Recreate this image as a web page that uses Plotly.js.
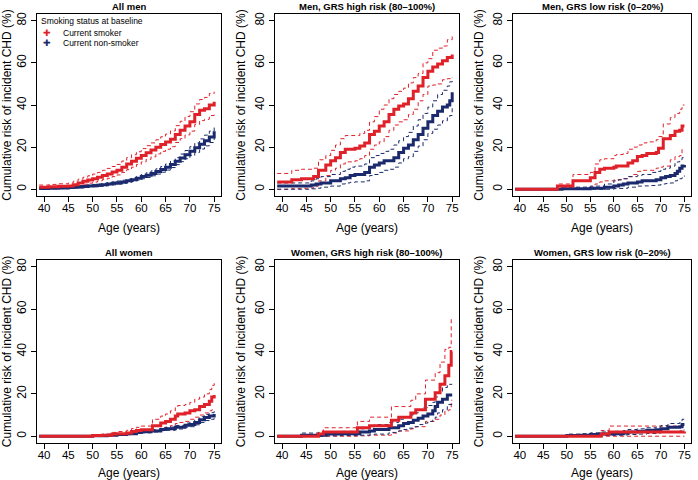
<!DOCTYPE html>
<html>
<head>
<meta charset="utf-8">
<script src="https://cdn.plot.ly/plotly-3.0.1.min.js"></script>
<style>html,body{margin:0;padding:0;background:#fff;}#chart{width:698px;height:480px;}</style>
</head>
<body>
<div id="chart"></div>
<script>
// ---------- DATA (Kaplan-Meier style cumulative risk, %) ----------
var panelTitles = ["All men", "Men, GRS high risk (80\u2013100%)", "Men, GRS low risk (0\u201320%)",
                   "All women", "Women, GRS high risk (80\u2013100%)", "Women, GRS low risk (0\u201320%)"];
var groupNames = ["Current smoker", "Current non-smoker"];
var legendTitle = "Smoking status at baseline";
var xTicks = [40, 45, 50, 55, 60, 65, 70, 75];
var yTicks = [0, 20, 40, 60, 80];

// Panel 1: All men
var p1SmkAge = [39,41,43,45,46,47,48,49,50,51,52,53,54,55,56,57,58,59,60,61,62,63,64,65,66,67,68,69,70,71,72,73,74,75];
var p1SmkEst = [1,1.2,1.4,1.6,2.2,3,3.8,4.4,5,5.7,6.5,7.3,8.2,9,10.5,12,13.3,14.7,16,17.3,18.6,20,21.3,22.4,23.8,26,28,30,32,35.5,37.5,38.2,40,41.5];
var p1SmkHi  = [2,2.3,2.6,3,3.8,4.8,5.7,6.4,7.2,8,9,9.9,10.8,11.8,13.4,15,16.4,17.8,19.3,20.7,22,23.5,24.9,26.2,27.7,30.2,32.3,34.5,36.8,40.5,42.6,43.6,45.5,46.3];
var p1SmkLo  = [0.3,0.5,0.6,0.8,1.2,1.8,2.4,2.9,3.4,4,4.6,5.2,6,6.8,8,9.3,10.5,11.8,13,14.2,15.4,16.8,18,19,20.2,22.2,24,25.8,27.6,30.8,32.6,33.2,35,36.5];
var p1NonAge = [39,41,43,45,46,47,48,49,50,51,52,53,54,55,56,57,58,59,60,61,62,63,64,65,66,67,68,69,70,71,72,73,74,75];
var p1NonEst = [0.4,0.5,0.6,0.8,0.9,1.1,1.3,1.5,1.7,1.9,2.2,2.5,2.8,3.1,3.5,4,4.5,5.2,6,6.7,7.5,8.4,9.4,10.5,11.8,13.3,14.8,16.4,18,19.7,21.4,23,24.8,27.5];
var p1NonHi  = [0.8,0.9,1,1.2,1.4,1.6,1.8,2,2.3,2.5,2.8,3.2,3.5,3.9,4.3,4.8,5.4,6.1,7,7.8,8.7,9.7,10.8,12,13.4,15,16.7,18.4,20.2,22,23.9,25.7,27.6,30.5];
var p1NonLo  = [0.1,0.2,0.3,0.5,0.6,0.7,0.9,1.1,1.2,1.4,1.6,1.9,2.1,2.4,2.8,3.2,3.7,4.3,5,5.6,6.4,7.2,8.1,9.1,10.3,11.7,13.1,14.5,16,17.5,19.1,20.6,22.2,24.7];

// Panel 2: Men, GRS high risk
var p2SmkAge = [39,42,44,46.5,47.5,49,50,51,52,53,55,56,57,58,59,60,61,62,63,64,65,66,67,68,69,70,71,72,73,74,75];
var p2SmkEst = [3.5,4.5,5,6,9,11.5,13.5,15,17.5,19,19.5,20.5,22,26,27.5,30,32,35.5,38,39.5,40.5,43,46.5,49,53,56,58,59.5,61,62.5,64];
var p2SmkHi  = [7.5,9,9.5,10,14,16,18.5,21,24,25.5,25.5,26.5,28,32,34.5,38,40,43,45,46.5,48,50.5,53,55,60,62,66,67,68,71,73];
var p2SmkLo  = [0,0.3,0.5,1.5,4,6.5,9,10,12,13,13.5,14.5,16,19,21,22.5,25,28,30.5,32,33,35.5,38,42,45,49,49.5,50,52,52.5,53];
var p2NonAge = [39,44,46,47,48,50,52,53,54,55,57,58,59,60,61,62,63,64,65,66,67,68,69,70,71,72,73,74,74.5,75];
var p2NonEst = [1.5,1.5,2,2.5,3,4,5,5.5,6.5,7,8,10.5,11.5,12.5,13.5,13.5,15,17.5,19.5,21,23.5,26,29,32,35,37,39,40,42,46];
var p2NonHi  = [3,3,4,5,6,7,8.5,9.5,10.5,11,12,15,16,17,18,19,21,23,25,27,30,33,36,39,42,45,47,49,51,53];
var p2NonLo  = [0,0,0.2,0.5,1,1.5,2.5,3,3.3,3.5,4,6.5,7,8,9,9.5,10.5,12.5,14.5,15.5,18,20.5,23.5,26.5,28.5,30.5,32.5,34,35,39];

// Panel 3: Men, GRS low risk
var p3SmkAge = [39,48,51.3,55,56,57,58,60,60.5,62,63,64,65,66,67,69,69.5,70.5,72,73,74,74.5,75];
var p3SmkEst = [0,1.5,4,5.5,8,9.5,10,10.5,11,11,12.5,13.5,15.5,16,17,17.5,19.5,24,25.5,27.5,28,30,30];
var p3SmkHi  = [0,2.5,7,8,12,14,14.5,16,16.5,17,19,20,21,22,22.5,23.5,25,31,34,36,38,40,40];
var p3SmkLo  = [0,0,0,1,2.5,3.5,4,4.5,4.5,5,6,7,8.5,9,9,10,10.5,11,14,15.5,16,19,19];
var p3NonAge = [39,49,55,58,60,61,62,63,65,66,68,69,70,71,72,73,73.5,74,74.5,75];
var p3NonEst = [0,0.3,0.5,1,1.5,2,2.5,3,3.5,4,4,4.5,5.5,6,6.5,7.5,8.5,10,11,11.5];
var p3NonHi  = [0,1,1.5,2.5,4,4.5,5,6,6.5,7,8,8.5,9.5,10,11,12.5,13,14,15,16];
var p3NonLo  = [0,0,0,0,0.3,0.4,0.5,1,1.5,1.6,1.8,2,2.5,2.7,3,4,4.3,5,5.5,6.5];

// Panel 4: All women
var p4SmkAge = [39,50,52,54,55,57,58,59,60,62.3,64,65,66,67,67.5,69,70,71,72,73,74,74.5,75];
var p4SmkEst = [0,0.3,0.5,1,1.2,1.5,2.2,2.7,3.1,5,6.2,7,8,9.5,10.5,11,12,12.5,14,15,16.5,18.5,19.5];
var p4SmkHi  = [0,0.6,1,1.8,2.2,2.8,3.6,4.2,4.8,8,9.5,10.5,12,13.5,14.5,15,16,17.5,18.5,20,22,24,25.5];
var p4SmkLo  = [0,0,0.1,0.3,0.5,0.7,1,1.4,1.8,2.8,3.5,4,5,6,6.5,7,8,9,10,11,12,12.5,13];
var p4NonAge = [39,50,53,55,57,59,60,62,64,65,67,69,70,71,72,73,74,75];
var p4NonEst = [0,0.2,0.5,0.8,1.2,1.8,2.1,2.5,3.2,3.5,4.2,5.2,5.5,6.5,7.8,8.8,9.5,10.5];
var p4NonHi  = [0,0.4,0.8,1.1,1.6,2.3,2.6,3.1,3.9,4.3,5.1,6.2,6.6,7.7,9.2,10.3,11.1,12.5];
var p4NonLo  = [0,0.1,0.3,0.5,0.9,1.4,1.6,2,2.6,2.8,3.4,4.3,4.5,5.4,6.5,7.4,8,9];

// Panel 5: Women, GRS high risk
var p5SmkAge = [39,47.5,48.5,55.5,58,62.5,64,66.5,67.5,69.5,71.5,72.5,73.5,74.3,74.8,75];
var p5SmkEst = [0,1,2,4,5,7.5,9,11,12.5,17.5,20.5,24.5,28.5,33.5,40,40];
var p5SmkHi  = [0,2,4,7,9,14,14,17,20,26.5,30,35,41,42,56,56];
var p5SmkLo  = [0,0,0,0.2,0.5,1.5,2.5,3.5,4.5,7,8,10,12,12.5,17,17];
var p5NonAge = [39,44,49,52,56,58,59,62,64,65,66,67,68,69,70,71,71.5,72,73,74,75];
var p5NonEst = [0,0.5,1,1.2,2,2.5,3.2,4,5,6,6.5,7.5,8.5,9.5,10.5,12,14,16,17.5,19.5,19.5];
var p5NonHi  = [0,1.5,2,2.3,3.5,4.5,5.5,6.5,8,9,10,11,12.5,13.5,14.5,16,18.5,20.5,23,24.5,24.5];
var p5NonLo  = [0,0,0.2,0.3,0.5,0.7,1,1.8,2.5,3.2,3.8,4.5,5.5,6.2,7,8,9,11,12.5,15,15];

// Panel 6: Women, GRS low risk
var p6SmkAge = [39,57.3,59,75];
var p6SmkEst = [0,1,2,2.2];
var p6SmkHi  = [0,2.7,4.8,5];
var p6SmkLo  = [0,0,0,0];
var p6NonAge = [39,50,53,55,57,60,62,63,65,67,69,70,71.5,74,74.5,75];
var p6NonEst = [0,0.3,0.5,0.8,1,1.2,1.5,2,2.3,2.8,3,3.5,4.2,4.5,5.5,5.5];
var p6NonHi  = [0,1,1.2,1.6,2,2.3,2.7,3.2,3.5,4,4.4,5,6,6.5,8,8];
var p6NonLo  = [0,0,0,0.2,0.3,0.5,0.6,0.8,1,1.3,1.5,1.8,2.2,2.5,3,3];

// ---------- STYLE ----------
var RED = "#DF2229";
var NAVY = "#1A2A6C";
var FONT = "Liberation Sans, Arial, Helvetica, sans-serif";
var W = 698, H = 480;

var panels = [
  {smk:[p1SmkAge,p1SmkEst,p1SmkHi,p1SmkLo], non:[p1NonAge,p1NonEst,p1NonHi,p1NonLo]},
  {smk:[p2SmkAge,p2SmkEst,p2SmkHi,p2SmkLo], non:[p2NonAge,p2NonEst,p2NonHi,p2NonLo]},
  {smk:[p3SmkAge,p3SmkEst,p3SmkHi,p3SmkLo], non:[p3NonAge,p3NonEst,p3NonHi,p3NonLo]},
  {smk:[p4SmkAge,p4SmkEst,p4SmkHi,p4SmkLo], non:[p4NonAge,p4NonEst,p4NonHi,p4NonLo]},
  {smk:[p5SmkAge,p5SmkEst,p5SmkHi,p5SmkLo], non:[p5NonAge,p5NonEst,p5NonHi,p5NonLo]},
  {smk:[p6SmkAge,p6SmkEst,p6SmkHi,p6SmkLo], non:[p6NonAge,p6NonEst,p6NonHi,p6NonLo]}
];

// pixel boxes of each plotting frame [left, right, top, bottom]
var boxes = [
  [37,221,14,196],[275,459,14,196],[513,691,14,196],
  [37,221,260,443],[275,459,260,443],[513,691,260,443]
];

var traces = [];
var layout = {
  width: W, height: H,
  margin: {l:0, r:0, t:0, b:0},
  paper_bgcolor: "#fff", plot_bgcolor: "#fff",
  showlegend: false,
  font: {family: FONT, color: "#000"},
  annotations: []
};

function stepTrace(age, vals, color, width, dash, xa, ya, name) {
  return {x: age, y: vals, type: "scatter", mode: "lines",
          line: {shape: "hv", color: color, width: width, dash: dash},
          xaxis: xa, yaxis: ya, name: name, showlegend: false, hoverinfo: "skip"};
}

panels.forEach(function(p, i) {
  var n = i + 1;
  var xa = "x" + (n === 1 ? "" : n), ya = "y" + (n === 1 ? "" : n);
  var xk = "xaxis" + (n === 1 ? "" : n), yk = "yaxis" + (n === 1 ? "" : n);
  var b = boxes[i];
  // CI dashed lines
  traces.push(stepTrace(p.smk[0], p.smk[2], RED, 1, "4px,3px", xa, ya, groupNames[0] + " upper"));
  traces.push(stepTrace(p.smk[0], p.smk[3], RED, 1, "4px,3px", xa, ya, groupNames[0] + " lower"));
  traces.push(stepTrace(p.non[0], p.non[2], NAVY, 1, "4px,3px", xa, ya, groupNames[1] + " upper"));
  traces.push(stepTrace(p.non[0], p.non[3], NAVY, 1, "4px,3px", xa, ya, groupNames[1] + " lower"));
  traces.push(stepTrace(p.non[0], p.non[1], NAVY, 3, "solid", xa, ya, groupNames[1]));
  traces.push(stepTrace(p.smk[0], p.smk[1], RED, 3, "solid", xa, ya, groupNames[0]));

  layout[xk] = {
    domain: [b[0]/W, b[1]/W], anchor: ya, range: [38.55, 76.4],
    tickvals: xTicks, ticks: "outside", ticklen: 5, tickwidth: 1, tickcolor: "#000",
    showline: true, mirror: true, linecolor: "#000", linewidth: 1,
    showgrid: false, zeroline: false, ticklabelstandoff: -4,
    tickfont: {family: FONT, size: 11.5, color: "#000"},
    title: {text: "Age (years)", font: {family: FONT, size: 12, color: "#000"}, standoff: 10}
  };
  layout[yk] = {
    domain: [1 - b[3]/H, 1 - b[2]/H], anchor: xa, range: [-3.2, 83.2],
    tickvals: yTicks, ticks: "outside", ticklen: 5, tickwidth: 1, tickcolor: "#000",
    showline: true, mirror: true, linecolor: "#000", linewidth: 1,
    showgrid: false, zeroline: false, tickangle: -90,
    tickfont: {family: FONT, size: 12, color: "#000"},
    title: {text: "Cumulative risk of incident CHD (%)", font: {family: FONT, size: 12, color: "#000"}, standoff: 5}
  };
  layout.annotations.push({
    text: "<b>" + panelTitles[i] + "</b>", xref: "paper", yref: "paper",
    x: (b[0] + b[1]) / 2 / W, y: 1 - (b[2] - 7.5) / H, xanchor: "center", yanchor: "middle",
    showarrow: false, font: {family: FONT, size: 9.5, color: "#000"}
  });
});

// legend (drawn in the first panel, like the original)
function legendText(txt, px, py, color, size, anchor) {
  layout.annotations.push({text: txt, xref: "paper", yref: "paper", x: px / W, y: 1 - py / H,
    xanchor: anchor || "left", yanchor: "middle", showarrow: false,
    font: {family: FONT, size: size, color: color}});
}
legendText(legendTitle, 39, 21, "#000", 8.5);
legendText("\u271A", 47, 33, RED, 9, "center");
legendText(groupNames[0], 61, 33, "#000", 8.5);
legendText("\u271A", 47, 43, NAVY, 9, "center");
legendText(groupNames[1], 61, 43, "#000", 8.5);

Plotly.newPlot("chart", traces, layout, {staticPlot: true, displayModeBar: false});
</script>
</body>
</html>
